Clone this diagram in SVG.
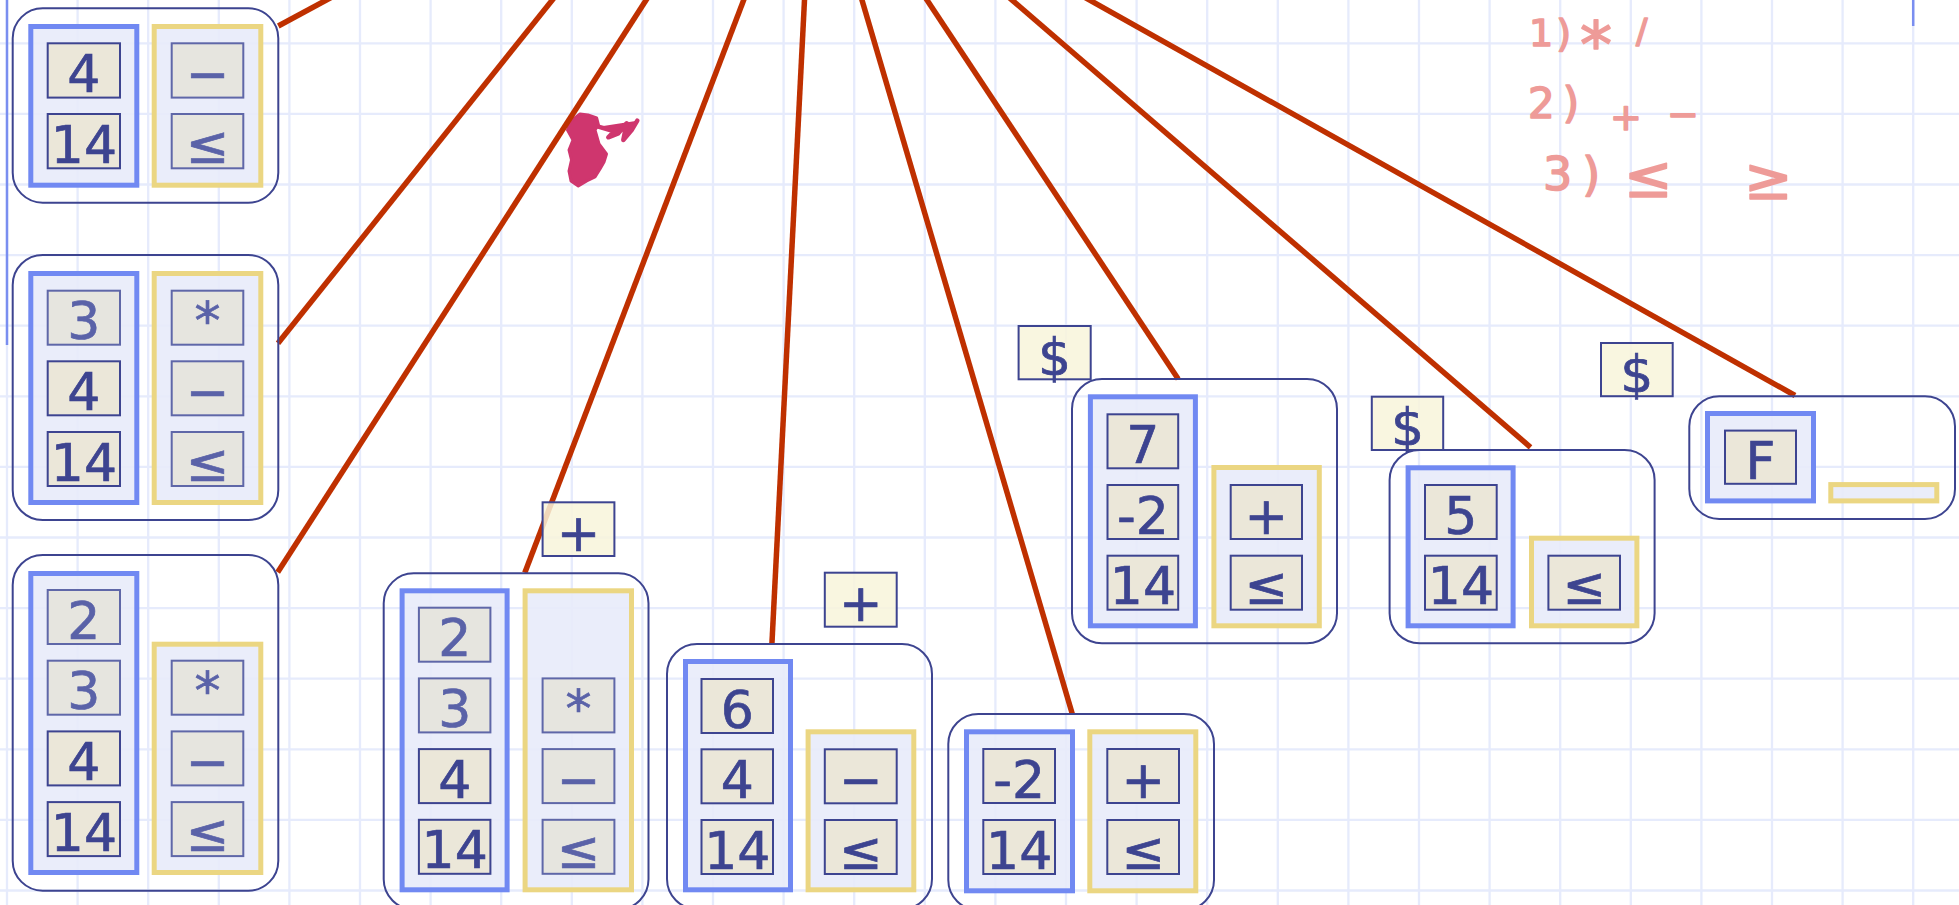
<svg xmlns="http://www.w3.org/2000/svg" width="1959" height="905" viewBox="0 0 1959 905">
  <defs>
    <style>
      .grid{stroke:#e6ebfc;stroke-width:2.3;fill:none}
      .rule{stroke:#7a8ef0;stroke-width:2.5;fill:none}
      .node{fill:none;stroke:#3d4490;stroke-width:2}
      .vs{fill:#e8ebf9;fill-opacity:.9;stroke:#7189f2;stroke-width:5}
      .os{fill:#e8ebf9;fill-opacity:.9;stroke:#ebd682;stroke-width:5}
      .c{fill:#eae6d6;fill-opacity:.92;stroke:#3d4490;stroke-width:2}
      .c.dim{fill:#e5e4dc;stroke:#5f67a8}
      .t{font-family:"DejaVu Sans",Verdana,sans-serif;font-size:52px;fill:#3d4490;stroke:#3d4490;stroke-width:.7;text-anchor:middle}
      .t.dim{fill:#5a62a8;stroke:#5a62a8}
      .lbl{fill:#f8f4da;fill-opacity:.85;stroke:#3d4490;stroke-width:2}
      .edge{stroke:#bf3000;stroke-width:5.5;fill:none}
      .ink{font-family:"DejaVu Sans",sans-serif;fill:#ee9b98;stroke:#ee9b98;stroke-width:1.6;stroke-linejoin:round}
      .blot{fill:#cf366e;stroke:#cf366e;stroke-linejoin:round;stroke-linecap:round}
    </style>
  </defs>

  <rect width="1959" height="905" fill="#ffffff"/>

  <!-- squared paper -->
  <path class="grid" d="M7,0V905M77.6,0V905M148.2,0V905M218.8,0V905M289.4,0V905M360,0V905M430.6,0V905M501.2,0V905M571.8,0V905M642.4,0V905M713,0V905M783.6,0V905M854.2,0V905M924.8,0V905M995.4,0V905M1066,0V905M1136.6,0V905M1207.2,0V905M1277.8,0V905M1348.4,0V905M1419,0V905M1489.6,0V905M1560.2,0V905M1630.8,0V905M1701.4,0V905M1772,0V905M1842.6,0V905M1913.2,0V905
    M0,43.3H1959M0,113.9H1959M0,184.5H1959M0,255.1H1959M0,325.7H1959M0,396.3H1959M0,466.9H1959M0,537.5H1959M0,608.1H1959M0,678.7H1959M0,749.3H1959M0,819.9H1959M0,890.5H1959"/>
  <path class="rule" d="M7,0V345M1913.2,0V26"/>

  <!-- handwritten notes -->
  <g id="notes">
    <text class="ink" x="1529" y="46" font-size="38" letter-spacing="3">1)</text>
    <text class="ink" x="1580" y="67" font-size="64">*</text>
    <text class="ink" x="1636" y="43" font-size="34">/</text>
    <text class="ink" x="1528" y="118" font-size="42" letter-spacing="8">2)</text>
    <text class="ink" x="1610" y="130" font-size="38">+</text>
    <text class="ink" x="1667" y="127" font-size="38">−</text>
    <text class="ink" x="1543" y="190" font-size="46" letter-spacing="10">3)</text>
    <text class="ink" x="1624" y="197" font-size="58">≤</text>
    <text class="ink" x="1744" y="199" font-size="58">≥</text>
  </g>

  <!-- scribbled-out mark -->
  <g id="blot">
    <path class="blot" stroke-width="3" d="M580,114 L588,115 L596.7,118 L598.5,125 L595,130 L599,144 L606.5,154 L604,162 L600,169 L595,177 L586.7,181 L578.3,186 L571,181 L569,171 L571.5,160 L569,150 L573,140 L567.5,130 L571,121 Z"/>
    <path class="blot" fill="none" stroke-width="4.5" d="M598.3,126.7 L610,130 L615,130.7 L608.3,137.3 L618.3,133.3 L626.7,123.3 L623.3,140 L631.7,130 L637.3,120.7"/>
  </g>

  <!-- connectors -->
  <g id="connectors">
    <path class="edge" d="M337.6,-6L278.3,26"/>
    <path class="edge" d="M557.1,-6L278,343.3"/>
    <path class="edge" d="M650,-6L277.7,572.3"/>
    <path class="edge" d="M746,-6L524.8,572.7"/>
    <path class="edge" d="M804.8,-6L771.9,644"/>
    <path class="edge" d="M860.2,-6L1072.3,714"/>
    <path class="edge" d="M923,-6L1178.2,379"/>
    <path class="edge" d="M1005,-6L1530.5,447.3"/>
    <path class="edge" d="M1078.8,-6L1795,395.5"/>
  </g>

  <!-- state: 4 14 | − ≤ -->
  <g id="node-a">
    <rect class="node" x="12.7" y="8.3" width="265.6" height="194.4" rx="30"/>
    <rect class="vs" x="30.8" y="26.5" width="106" height="158.7"/>
    <rect class="os" x="154.2" y="26.5" width="106.6" height="158.7"/>
    <rect class="c" x="47.7" y="43.3" width="72.3" height="54.3"/>
    <text class="t" x="83.9" y="91.8">4</text>
    <rect class="c" x="47.7" y="114" width="72.3" height="54.3"/>
    <text class="t" x="83.9" y="162.5">14</text>
    <rect class="c dim" x="171.7" y="43.3" width="71.6" height="54.3"/>
    <text class="t dim" x="207.5" y="91.8">−</text>
    <rect class="c dim" x="171.7" y="114" width="71.6" height="54.3"/>
    <text class="t dim" x="207.5" y="162.5">≤</text>
  </g>

  <!-- state: 3 4 14 | * − ≤ -->
  <g id="node-b">
    <rect class="node" x="12.7" y="255" width="265.6" height="265" rx="30"/>
    <rect class="vs" x="30.8" y="273.5" width="106" height="229"/>
    <rect class="os" x="154.2" y="273.5" width="106.6" height="229"/>
    <rect class="c dim" x="47.7" y="290.7" width="72.3" height="54"/>
    <text class="t dim" x="83.9" y="339.2">3</text>
    <rect class="c" x="47.7" y="361.3" width="72.3" height="54"/>
    <text class="t" x="83.9" y="409.8">4</text>
    <rect class="c" x="47.7" y="432" width="72.3" height="54"/>
    <text class="t" x="83.9" y="480.5">14</text>
    <rect class="c dim" x="171.7" y="290.7" width="71.6" height="54"/>
    <text class="t dim" x="207.5" y="339.2">*</text>
    <rect class="c dim" x="171.7" y="361.3" width="71.6" height="54"/>
    <text class="t dim" x="207.5" y="409.8">−</text>
    <rect class="c dim" x="171.7" y="432" width="71.6" height="54"/>
    <text class="t dim" x="207.5" y="480.5">≤</text>
  </g>

  <!-- state: 2 3 4 14 | * − ≤ -->
  <g id="node-c">
    <rect class="node" x="12.7" y="555" width="265.6" height="335.7" rx="30"/>
    <rect class="vs" x="30.8" y="573.5" width="106" height="299"/>
    <rect class="os" x="154.2" y="644.2" width="106.6" height="228.3"/>
    <rect class="c dim" x="47.7" y="590" width="72.3" height="54"/>
    <text class="t dim" x="83.9" y="638.5">2</text>
    <rect class="c dim" x="47.7" y="660.7" width="72.3" height="54"/>
    <text class="t dim" x="83.9" y="709.2">3</text>
    <rect class="c" x="47.7" y="731.4" width="72.3" height="54"/>
    <text class="t" x="83.9" y="779.9">4</text>
    <rect class="c" x="47.7" y="802.1" width="72.3" height="54"/>
    <text class="t" x="83.9" y="850.6">14</text>
    <rect class="c dim" x="171.7" y="660.7" width="71.6" height="54"/>
    <text class="t dim" x="207.5" y="709.2">*</text>
    <rect class="c dim" x="171.7" y="731.4" width="71.6" height="54"/>
    <text class="t dim" x="207.5" y="779.9">−</text>
    <rect class="c dim" x="171.7" y="802.1" width="71.6" height="54"/>
    <text class="t dim" x="207.5" y="850.6">≤</text>
  </g>

  <!-- state: 2 3 4 14 | * − ≤ (next: +) -->
  <g id="node-d">
    <rect class="node" x="383.7" y="573.3" width="264.8" height="336" rx="30"/>
    <rect class="vs" x="402.1" y="590.8" width="105" height="299"/>
    <rect class="os" x="525.1" y="590.8" width="106.4" height="299"/>
    <rect class="c dim" x="418.9" y="607.7" width="71.5" height="54"/>
    <text class="t dim" x="454.7" y="656.2">2</text>
    <rect class="c dim" x="418.9" y="678.4" width="71.5" height="54"/>
    <text class="t dim" x="454.7" y="726.9">3</text>
    <rect class="c" x="418.9" y="749.1" width="71.5" height="54"/>
    <text class="t" x="454.7" y="797.6">4</text>
    <rect class="c" x="418.9" y="819.8" width="71.5" height="54"/>
    <text class="t" x="454.7" y="868.3">14</text>
    <rect class="c dim" x="542.6" y="678.4" width="71.8" height="54"/>
    <text class="t dim" x="578.5" y="726.9">*</text>
    <rect class="c dim" x="542.6" y="749.1" width="71.8" height="54"/>
    <text class="t dim" x="578.5" y="797.6">−</text>
    <rect class="c dim" x="542.6" y="819.8" width="71.8" height="54"/>
    <text class="t dim" x="578.5" y="868.3">≤</text>
    <rect class="lbl" x="542.6" y="502.3" width="71.8" height="53.7"/>
    <text class="t" x="578.5" y="550.8">+</text>
  </g>

  <!-- state: 6 4 14 | − ≤ (next: +) -->
  <g id="node-e">
    <rect class="node" x="667" y="644" width="265" height="265" rx="30"/>
    <rect class="vs" x="685.5" y="661.5" width="105" height="228.3"/>
    <rect class="os" x="808.1" y="731.8" width="105.7" height="158"/>
    <rect class="c" x="701.5" y="679" width="71.5" height="54"/>
    <text class="t" x="737.3" y="727.5">6</text>
    <rect class="c" x="701.5" y="749.3" width="71.5" height="54"/>
    <text class="t" x="737.3" y="797.8">4</text>
    <rect class="c" x="701.5" y="820" width="71.5" height="54"/>
    <text class="t" x="737.3" y="868.5">14</text>
    <rect class="c" x="824.8" y="749.3" width="71.9" height="54"/>
    <text class="t" x="860.8" y="797.8">−</text>
    <rect class="c" x="824.8" y="820" width="71.9" height="54"/>
    <text class="t" x="860.8" y="868.5">≤</text>
    <rect class="lbl" x="824.8" y="572.7" width="71.9" height="54"/>
    <text class="t" x="860.8" y="621.2">+</text>
  </g>

  <!-- state: -2 14 | + ≤ -->
  <g id="node-f">
    <rect class="node" x="948.3" y="714" width="265.7" height="196" rx="30"/>
    <rect class="vs" x="966.5" y="731.8" width="106" height="159"/>
    <rect class="os" x="1089.8" y="731.8" width="106" height="159"/>
    <rect class="c" x="983.3" y="749" width="71.7" height="54"/>
    <text class="t" x="1019.2" y="797.5">-2</text>
    <rect class="c" x="983.3" y="820" width="71.7" height="54"/>
    <text class="t" x="1019.2" y="868.5">14</text>
    <rect class="c" x="1107.3" y="749" width="71.7" height="54"/>
    <text class="t" x="1143.2" y="797.5">+</text>
    <rect class="c" x="1107.3" y="820" width="71.7" height="54"/>
    <text class="t" x="1143.2" y="868.5">≤</text>
  </g>

  <!-- state: 7 -2 14 | + ≤ (next: $) -->
  <g id="node-g">
    <rect class="node" x="1072" y="379" width="265" height="264.3" rx="30"/>
    <rect class="vs" x="1090.4" y="396.8" width="105" height="229"/>
    <rect class="os" x="1213.9" y="467.5" width="105.4" height="158.3"/>
    <rect class="c" x="1107.5" y="414.3" width="70.7" height="54"/>
    <text class="t" x="1142.9" y="462.8">7</text>
    <rect class="c" x="1107.5" y="485" width="70.7" height="54"/>
    <text class="t" x="1142.9" y="533.5">-2</text>
    <rect class="c" x="1107.5" y="555.7" width="70.7" height="54"/>
    <text class="t" x="1142.9" y="604.2">14</text>
    <rect class="c" x="1230.7" y="485" width="71.3" height="54"/>
    <text class="t" x="1266.4" y="533.5">+</text>
    <rect class="c" x="1230.7" y="555.7" width="71.3" height="54"/>
    <text class="t" x="1266.4" y="604.2">≤</text>
    <rect class="lbl" x="1018.6" y="326" width="72.1" height="53.3"/>
    <text class="t" x="1054.6" y="374.5">$</text>
  </g>

  <!-- state: 5 14 | ≤ (next: $) -->
  <g id="node-h">
    <rect class="node" x="1389.6" y="450" width="265" height="193.3" rx="30"/>
    <rect class="vs" x="1408.1" y="467.8" width="105" height="158"/>
    <rect class="os" x="1531.5" y="538.2" width="105.4" height="87.6"/>
    <rect class="c" x="1425" y="485" width="71.7" height="54"/>
    <text class="t" x="1460.9" y="533.5">5</text>
    <rect class="c" x="1425" y="555.7" width="71.7" height="54"/>
    <text class="t" x="1460.9" y="604.2">14</text>
    <rect class="c" x="1548.4" y="555.7" width="71.6" height="54"/>
    <text class="t" x="1584.2" y="604.2">≤</text>
    <rect class="lbl" x="1371.8" y="396.7" width="71.4" height="53.3"/>
    <text class="t" x="1407.5" y="445.2">$</text>
  </g>

  <!-- state: F | (empty) (next: $) -->
  <g id="node-i">
    <rect class="node" x="1689.3" y="396.2" width="265.7" height="122.7" rx="30"/>
    <rect class="vs" x="1707.5" y="413.5" width="106" height="87.4"/>
    <rect class="os" x="1830.8" y="484.6" width="106" height="16.3"/>
    <rect class="c" x="1725" y="430.6" width="71" height="53.2"/>
    <text class="t" x="1760.5" y="479">F</text>
    <rect class="lbl" x="1601" y="343" width="71.7" height="53.2"/>
    <text class="t" x="1636.9" y="391.5">$</text>
  </g>
</svg>
